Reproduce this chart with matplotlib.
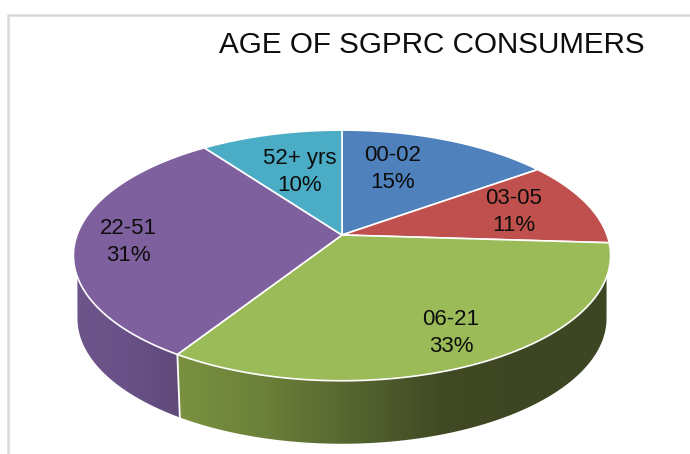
import numpy as np
import matplotlib
matplotlib.use("Agg")
import matplotlib.pyplot as plt
from matplotlib.colors import LinearSegmentedColormap
from matplotlib.patches import Polygon

labels = ["00-02", "03-05", "06-21", "22-51", "52+ yrs"]
shares = [15, 11, 33, 31, 10]
title = "AGE OF SGPRC CONSUMERS"

colors = ["#4f81bd", "#c0504d", "#9bbb59", "#7f609e", "#4bacc6"]
# label centres in pixels, same order as labels
label_xy = [(393, 169), (514, 212), (451, 333), (128, 242), (300, 172)]

plt.rcParams["font.family"] = "Liberation Sans"

# the picture is laid out in pixels
fig = plt.figure(figsize=(6.9, 4.54), dpi=100)
ax = fig.add_axes([0, 0, 1, 1])
ax.set_xlim(0, 690)
ax.set_ylim(454, 0)
ax.axis("off")

# gray chart frame, only top and left show
ax.plot([7.5, 7.5, 690], [454, 14.5, 14.5], color="#d9d9d9", lw=1.8, zorder=0)

cx, cy = 342, 235
depth = 63
k = 0.163


def project(theta, a=265, b=122, dy=0):
    # theta is clockwise from 12 o'clock, far side of the disc is squeezed
    u, v = np.sin(theta), np.cos(theta)
    w = 1 + k * v
    return np.column_stack([cx + a * u / w, cy + dy - b * v / w])


fractions = np.array(shares) / sum(shares)
edges = np.concatenate([[0], np.cumsum(fractions)]) * 2 * np.pi

# side wall, one shaded piece per visible slice
wall_start = np.radians(109)
wall_end = np.radians(251)
bottom_start = np.radians(100)
bottom_end = np.radians(260)
seam = edges[3]

wall_green = LinearSegmentedColormap.from_list(
    "g", ["#7a9141", "#6b8039", "#566530", "#414a24", "#3d4622", "#3d4622"])
wall_purple = LinearSegmentedColormap.from_list(
    "p", ["#6d5489", "#6a5187", "#5f4a7a"])

rim = np.linspace(wall_start, seam, 120)
low = np.linspace(bottom_start, seam, 120)
green_pts = np.vstack([project(rim), project(low, a=261, dy=depth)[::-1]])
patch = Polygon(green_pts, closed=True, fc="none", ec="none")
ax.add_patch(patch)
im = ax.imshow(np.linspace(0, 1, 256)[None, :], cmap=wall_green, aspect="auto",
               extent=[178, 612, 454, 230], zorder=1)
im.set_clip_path(patch)

rim = np.linspace(seam, wall_end, 120)
low = np.linspace(seam, bottom_end, 120)
purple_pts = np.vstack([project(rim), project(low, a=261, dy=depth)[::-1]])
patch = Polygon(purple_pts, closed=True, fc="none", ec="none")
ax.add_patch(patch)
im = ax.imshow(np.linspace(0, 1, 256)[None, :], cmap=wall_purple, aspect="auto",
               extent=[70, 180, 454, 230], zorder=1)
im.set_clip_path(patch)

ax.set_xlim(0, 690)
ax.set_ylim(454, 0)

# white seam between the two wall pieces
seam_line = np.vstack([project(np.array([seam])),
                       project(np.array([seam]), a=261, dy=depth)])
ax.plot(seam_line[:, 0], seam_line[:, 1], color="white", lw=1.3, zorder=2)

# top of the pie
for start, end, color in zip(edges[:-1], edges[1:], colors):
    arc = project(np.linspace(start, end, 120))
    pts = np.vstack([[cx, cy], arc])
    ax.add_patch(Polygon(pts, closed=True, fc=color, ec="white", lw=1.2,
                         joinstyle="round", zorder=3))

for name, share, (x, y) in zip(labels, shares, label_xy):
    ax.text(x, y, f"{name}\n{share}%", ha="center", va="center", fontsize=16,
            linespacing=1.38, color="#0d0d0d", zorder=4)

ax.text(431.5, 45, title, ha="center", va="center", fontsize=21.3, color="#0d0d0d")

fig.savefig("out.png", dpi=100)
